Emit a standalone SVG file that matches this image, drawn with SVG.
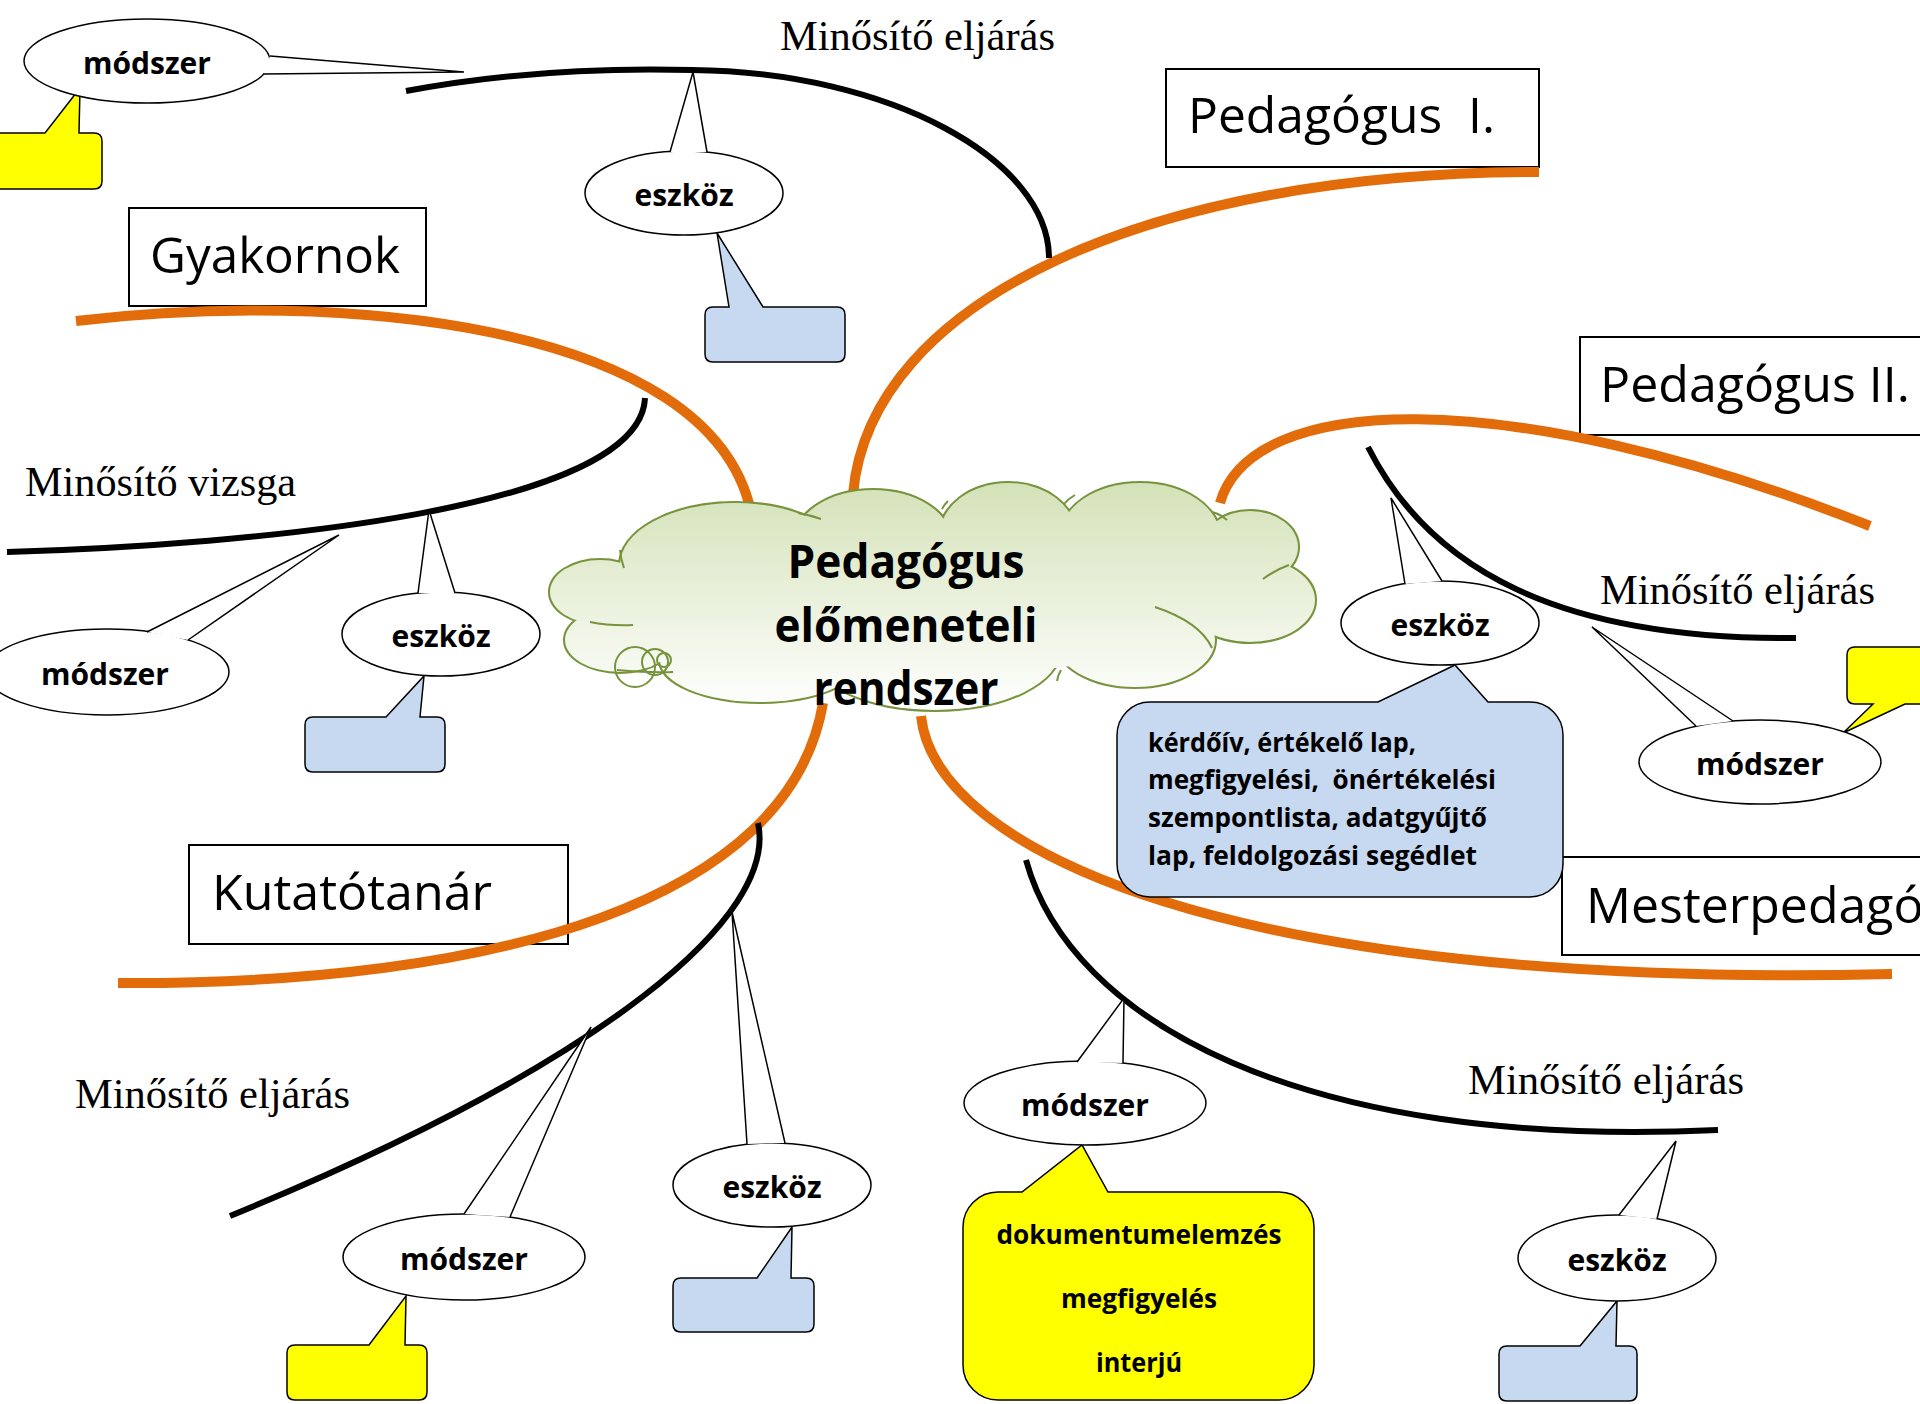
<svg xmlns="http://www.w3.org/2000/svg" width="1920" height="1404" viewBox="0 0 1920 1404">
<defs>
<linearGradient id="cg" gradientUnits="userSpaceOnUse" x1="0" y1="483" x2="0" y2="712">
<stop offset="0" stop-color="#D4E2B8"/>
<stop offset="1" stop-color="#FFFFFF"/>
</linearGradient>
<style>
.arcB{fill:none;stroke:#000;stroke-width:6}
.arcO{fill:none;stroke:#E36C0A;stroke-width:10}
.bub{fill:#fff;stroke:#000;stroke-width:1.5}
.blue{fill:#C6D9F1;stroke:#000;stroke-width:1.5}
.yel{fill:#FFFF00;stroke:#000;stroke-width:1.5}
.box{fill:#fff;stroke:#000;stroke-width:2}
.lbl{font-family:"Open Sans","Liberation Sans",sans-serif;font-size:50px;fill:#000}
.bt{font-family:"Open Sans","Liberation Sans",sans-serif;font-weight:bold;font-size:30px;text-anchor:middle;fill:#000}
.ct{font-family:"Open Sans","Liberation Sans",sans-serif;font-weight:bold;font-size:27px;fill:#000}
.ser{font-family:"Liberation Serif","Times New Roman",serif;font-size:42px;fill:#000}
.cl{font-family:"Open Sans","Liberation Sans",sans-serif;font-weight:bold;font-size:46px;text-anchor:middle;fill:#000}
.cs{stroke:#77933C;stroke-width:4;fill:none}
.cf{fill:url(#cg);stroke:none}
.hk{fill:none;stroke:#77933C;stroke-width:2}
</style>
</defs>
<rect x="0" y="0" width="1920" height="1404" fill="#fff"/>

<g id="box-pedagogus1"><rect class="box" x="1166" y="69" width="373" height="98"/><text class="lbl" x="1188" y="133" xml:space="preserve" textLength="307" lengthAdjust="spacingAndGlyphs">Pedagógus  I.</text></g>
<g id="box-gyakornok"><rect class="box" x="129" y="208" width="297" height="98"/><text class="lbl" x="150" y="273" textLength="250" lengthAdjust="spacingAndGlyphs">Gyakornok</text></g>
<g id="box-pedagogus2"><rect class="box" x="1580" y="337" width="350" height="98"/><text class="lbl" x="1600" y="402" textLength="310" lengthAdjust="spacingAndGlyphs">Pedagógus II.</text></g>
<g id="box-kutatotanar"><rect class="box" x="189" y="845" width="379" height="99"/><text class="lbl" x="212" y="910" textLength="280" lengthAdjust="spacingAndGlyphs">Kutatótanár</text></g>
<g id="box-mesterpedagogus"><rect class="box" x="1562" y="857" width="370" height="98"/><text class="lbl" x="1586" y="923">Mesterpedagógus</text></g>

<g id="connectors">
<path class="arcO" d="M 76 321 C 330 290, 710 320, 751 512"/>
<path class="arcO" d="M 853 494 C 870 300, 1150 172, 1539 172"/>
<path class="arcO" d="M 1220 503 C 1250 395, 1500 380, 1870 526"/>
<path class="arcO" d="M 921 716 C 935 850, 1230 990, 1892 974"/>
<path class="arcO" d="M 823 703 C 790 900, 500 985, 118 983"/>
<path class="arcB" d="M 406 91 Q 540 66 692 70 C 890 72 1049 160 1049 258"/>
<path class="arcB" d="M 7 552 C 250 545, 640 510, 645 398"/>
<path class="arcB" d="M 1368 447 C 1430 570, 1560 640, 1796 638"/>
<path class="arcB" d="M 758 823 C 778 915, 610 1060, 230 1216"/>
<path class="arcB" d="M 1026 860 C 1070 1020, 1300 1150, 1718 1130"/>
</g>

<g id="label-minosito-top"><text class="ser" x="780" y="50" textLength="275" lengthAdjust="spacingAndGlyphs">Minősítő eljárás</text></g>
<g id="label-minosito-vizsga"><text class="ser" x="25" y="496" textLength="271" lengthAdjust="spacingAndGlyphs">Minősítő vizsga</text></g>
<g id="label-minosito-right"><text class="ser" x="1600" y="604" textLength="275" lengthAdjust="spacingAndGlyphs">Minősítő eljárás</text></g>
<g id="label-minosito-bl"><text class="ser" x="75" y="1108" textLength="275" lengthAdjust="spacingAndGlyphs">Minősítő eljárás</text></g>
<g id="label-minosito-br"><text class="ser" x="1468" y="1094" textLength="276" lengthAdjust="spacingAndGlyphs">Minősítő eljárás</text></g>

<g id="callout-yellow-tl"><path class="yel" d="M -12 133 L 45 133 L 80 88 L 79 133 L 94 133 Q 102 133 102 141 L 102 181 Q 102 189 94 189 L -12 189 Q -20 189 -20 181 L -20 141 Q -20 133 -12 133 Z"/></g>
<g id="callout-blue-top"><path class="blue" d="M 713 307 L 729 307 L 717 233 L 763 307 L 837 307 Q 845 307 845 315 L 845 354 Q 845 362 837 362 L 713 362 Q 705 362 705 354 L 705 315 Q 705 307 713 307 Z"/></g>
<g id="callout-blue-midleft"><path class="blue" d="M 313 717 L 386 717 L 424 676 L 420 717 L 437 717 Q 445 717 445 725 L 445 764 Q 445 772 437 772 L 313 772 Q 305 772 305 764 L 305 725 Q 305 717 313 717 Z"/></g>
<g id="callout-blue-big"><path class="blue" d="M 1150 702 L 1378 702 L 1455 665 L 1488 702 L 1530 702 A 33 33 0 0 1 1563 735 L 1563 864 A 33 33 0 0 1 1530 897 L 1150 897 A 33 33 0 0 1 1117 864 L 1117 735 A 33 33 0 0 1 1150 702 Z"/>
<text class="ct" x="1148" y="752" textLength="268" lengthAdjust="spacingAndGlyphs">kérdőív, értékelő lap,</text>
<text class="ct" x="1148" y="789" xml:space="preserve" textLength="348" lengthAdjust="spacingAndGlyphs">megfigyelési,  önértékelési</text>
<text class="ct" x="1148" y="827" textLength="339" lengthAdjust="spacingAndGlyphs">szempontlista, adatgyűjtő</text>
<text class="ct" x="1148" y="865" textLength="329" lengthAdjust="spacingAndGlyphs">lap, feldolgozási segédlet</text></g>
<g id="callout-yellow-right"><path class="yel" d="M 1855 647 L 1935 647 L 1935 704 L 1905 704 L 1843 733 L 1873 704 L 1855 704 Q 1847 704 1847 696 L 1847 655 Q 1847 647 1855 647 Z"/></g>
<g id="callout-yellow-big"><path class="yel" d="M 998 1192 L 1022 1192 L 1082 1145 L 1108 1192 L 1279 1192 A 35 35 0 0 1 1314 1227 L 1314 1365 A 35 35 0 0 1 1279 1400 L 998 1400 A 35 35 0 0 1 963 1365 L 963 1227 A 35 35 0 0 1 998 1192 Z"/>
<text class="ct" x="1139" y="1244" text-anchor="middle" textLength="285" lengthAdjust="spacingAndGlyphs">dokumentumelemzés</text>
<text class="ct" x="1139" y="1308" text-anchor="middle" textLength="156" lengthAdjust="spacingAndGlyphs">megfigyelés</text>
<text class="ct" x="1139" y="1372" text-anchor="middle" textLength="86" lengthAdjust="spacingAndGlyphs">interjú</text></g>
<g id="callout-yellow-bl"><path class="yel" d="M 295 1345 L 369 1345 L 406 1296 L 405 1345 L 419 1345 Q 427 1345 427 1353 L 427 1392 Q 427 1400 419 1400 L 295 1400 Q 287 1400 287 1392 L 287 1353 Q 287 1345 295 1345 Z"/></g>
<g id="callout-blue-bc"><path class="blue" d="M 681 1278 L 757 1278 L 792 1227 L 791 1278 L 806 1278 Q 814 1278 814 1286 L 814 1324 Q 814 1332 806 1332 L 681 1332 Q 673 1332 673 1324 L 673 1286 Q 673 1278 681 1278 Z"/></g>
<g id="callout-blue-br"><path class="blue" d="M 1507 1346 L 1580 1346 L 1617 1301 L 1616 1346 L 1629 1346 Q 1637 1346 1637 1354 L 1637 1393 Q 1637 1401 1629 1401 L 1507 1401 Q 1499 1401 1499 1393 L 1499 1354 Q 1499 1346 1507 1346 Z"/></g>

<g id="modszer-top"><ellipse class="bub" cx="147" cy="61" rx="123" ry="42"/><path class="bub" d="M 270 56 L 464 72 L 263 74"/><text class="bt" x="147" y="74">módszer</text></g>
<g id="eszkoz-top"><ellipse class="bub" cx="684" cy="193" rx="99" ry="42"/><path class="bub" d="M 670 152 L 693 72 L 707 152"/><text class="bt" x="684" y="206">eszköz</text></g>
<g id="modszer-midleft"><ellipse class="bub" cx="107" cy="672" rx="122" ry="43"/><path class="bub" d="M 147 632 L 339 535 L 188 640"/><text class="bt" x="105" y="685">módszer</text></g>
<g id="eszkoz-mid"><ellipse class="bub" cx="441" cy="634" rx="99" ry="42"/><path class="bub" d="M 418 593 L 429 510 L 455 593"/><text class="bt" x="441" y="647">eszköz</text></g>
<g id="eszkoz-right"><ellipse class="bub" cx="1440" cy="623" rx="99" ry="42"/><path class="bub" d="M 1405 584 L 1391 498 L 1442 581"/><text class="bt" x="1440" y="636">eszköz</text></g>
<g id="modszer-right"><ellipse class="bub" cx="1760" cy="762" rx="121" ry="42"/><path class="bub" d="M 1696 726 L 1592 627 L 1733 721"/><text class="bt" x="1760" y="775">módszer</text></g>
<g id="modszer-bc"><ellipse class="bub" cx="1085" cy="1103" rx="121" ry="42"/><path class="bub" d="M 1077 1062 L 1124 998 L 1123 1063"/><text class="bt" x="1085" y="1116">módszer</text></g>
<g id="modszer-bl"><ellipse class="bub" cx="464" cy="1257" rx="121" ry="43"/><path class="bub" d="M 464 1214 L 591 1027 L 510 1217"/><text class="bt" x="464" y="1270">módszer</text></g>
<g id="eszkoz-bl"><ellipse class="bub" cx="772" cy="1185" rx="99" ry="42"/><path class="bub" d="M 747 1144 L 732 912 L 785 1143"/><text class="bt" x="772" y="1198">eszköz</text></g>
<g id="eszkoz-br"><ellipse class="bub" cx="1617" cy="1258" rx="99" ry="43"/><path class="bub" d="M 1619 1215 L 1676 1141 L 1657 1219"/><text class="bt" x="1617" y="1271">eszköz</text></g>

<g id="cloud-center">
<g class="cs">
<ellipse cx="600" cy="592" rx="50" ry="32"/>
<ellipse cx="735" cy="565" rx="115" ry="62"/>
<ellipse cx="873" cy="540" rx="78" ry="50"/>
<ellipse cx="1008" cy="535" rx="68" ry="52"/>
<ellipse cx="1140" cy="537" rx="80" ry="54"/>
<ellipse cx="1250" cy="547" rx="48" ry="36"/>
<ellipse cx="1250" cy="600" rx="65" ry="42"/>
<ellipse cx="1135" cy="640" rx="80" ry="47"/>
<ellipse cx="935" cy="650" rx="125" ry="60"/>
<ellipse cx="760" cy="660" rx="100" ry="42"/>
<ellipse cx="620" cy="640" rx="55" ry="32"/>
</g>
<g class="cf">
<ellipse cx="600" cy="592" rx="50" ry="32"/>
<ellipse cx="735" cy="565" rx="115" ry="62"/>
<ellipse cx="873" cy="540" rx="78" ry="50"/>
<ellipse cx="1008" cy="535" rx="68" ry="52"/>
<ellipse cx="1140" cy="537" rx="80" ry="54"/>
<ellipse cx="1250" cy="547" rx="48" ry="36"/>
<ellipse cx="1250" cy="600" rx="65" ry="42"/>
<ellipse cx="1135" cy="640" rx="80" ry="47"/>
<ellipse cx="935" cy="650" rx="125" ry="60"/>
<ellipse cx="760" cy="660" rx="100" ry="42"/>
<ellipse cx="620" cy="640" rx="55" ry="32"/>
<ellipse cx="930" cy="600" rx="300" ry="75"/>
<ellipse cx="1100" cy="590" rx="150" ry="50"/>
</g>
<path class="hk" d="M 620 550 Q 621 560 624 568"/>
<path class="hk" d="M 590 622 Q 610 626 633 625"/>
<path class="hk" d="M 798 513 Q 810 515 821 519"/>
<path class="hk" d="M 942 509 Q 944 505 948 501"/>
<path class="hk" d="M 1064 504 Q 1068 499 1075 495"/>
<path class="hk" d="M 1212 512 Q 1220 514 1227 520"/>
<path class="hk" d="M 1263 579 Q 1275 570 1289 565"/>
<path class="hk" d="M 1155 607 Q 1200 622 1212 648"/>
<path class="hk" d="M 1057 681 Q 1058 675 1061 670"/>
<path class="hk" d="M 617 670 Q 650 673 673 672"/>
<circle cx="635" cy="667" r="20" fill="none" stroke="#77933C" stroke-width="2"/>
<circle cx="655" cy="662" r="13" fill="none" stroke="#77933C" stroke-width="2"/>
<circle cx="664" cy="660" r="7" fill="none" stroke="#77933C" stroke-width="2"/>
<text class="cl" x="906" y="578" textLength="237" lengthAdjust="spacingAndGlyphs">Pedagógus</text>
<text class="cl" x="906" y="642" textLength="263" lengthAdjust="spacingAndGlyphs">előmeneteli</text>
<text class="cl" x="906" y="705" textLength="185" lengthAdjust="spacingAndGlyphs">rendszer</text>
</g>
</svg>
